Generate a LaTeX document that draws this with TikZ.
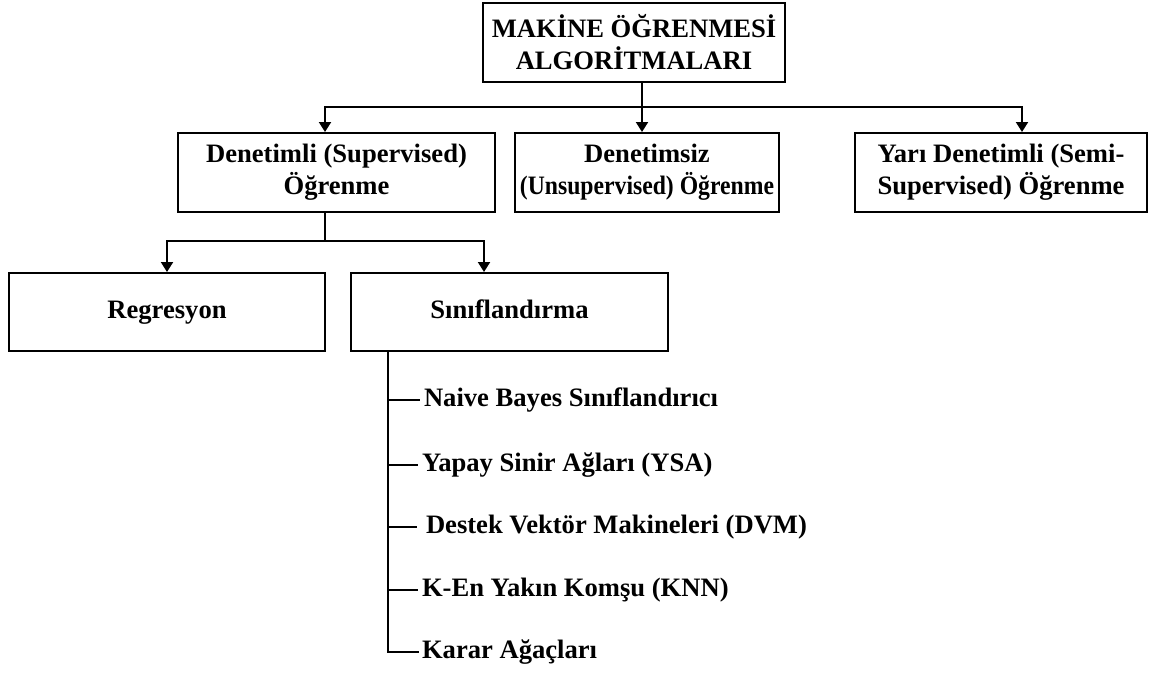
\documentclass[tikz,border=0pt]{standalone}
\usepackage{fontspec}
\setmainfont{Liberation Serif}
\usetikzlibrary{arrows.meta}

\begin{document}
\begin{tikzpicture}[x=0.5pt,y=-0.5pt,line width=1pt,
   font=\bfseries\fontsize{13.3}{16}\selectfont,
   box/.style={draw,align=center,inner sep=0pt,minimum height=39.5pt},
   item/.style={anchor=west,inner sep=1pt},
   arr/.style={-{Triangle[width=6pt,length=5pt]}}]
  \useasboundingbox (0,0) rectangle (1171,677);

  % ---- root ----
  \node[box,minimum width=151pt] (root) at (634,42.5) {MAKİNE ÖĞRENMESİ\\ALGORİTMALARI};

  % ---- learning types ----
  \node[box,minimum width=158.5pt] (sup) at (336.5,172.5) {Denetimli (Supervised)\\Öğrenme};
  \node[box,minimum width=132pt] (uns) at (647,172.5)
    {Denetimsiz\\\scalebox{0.89}[1]{(Unsupervised) Öğrenme}};
  \node[box,minimum width=146pt] (semi) at (1001,172.5) {Yarı Denetimli (Semi-\\Supervised) Öğrenme};
  \coordinate (r1) at (642,107);
  \draw (root.south -| r1) -- (r1);
  \draw[arr] (r1) -| (sup.north -| 325,0);
  \draw[arr] (r1) -- (uns.north -| r1);
  \draw[arr] (r1) -| (semi.north -| 1022,0);

  % ---- supervised ----
  \node[box,minimum width=158pt,minimum height=39pt,text height=9.5pt,text depth=3pt] (reg) at (167,312) {Regresyon};
  \node[box,minimum width=158.5pt,minimum height=39pt,text height=9.5pt,text depth=3pt] (cls) at (509.5,312) {Sınıflandırma};
  \coordinate (r2) at (325,241);
  \draw (sup.south -| r2) -- (r2);
  \draw[arr] (r2) -| (reg.north -| 167,0);
  \draw[arr] (r2) -| (cls.north -| 484,0);

  % ---- classifiers ----
  \coordinate (sb) at (388,0);
  \node[item] (nb) at (421,400) {Naive Bayes Sınıflandırıcı};
  \node[item] (ysa) at (419,465) {Yapay Sinir Ağları (YSA)};
  \node[item] (dvm) at (423,527) {Destek Vektör Makineleri (DVM)};
  \node[item] (knn) at (419,590) {K-En Yakın Komşu (KNN)};
  \node[item] (kar) at (419,652) {Karar Ağaçları};
  \draw (cls.south -| sb) -- (kar.west -| sb) -- (kar.west);
  \foreach \n/\e in {nb/420,ysa/418,dvm/417,knn/418}
    \draw (\n.west -| sb) -- (\n.west -| \e,0);
\end{tikzpicture}
\end{document}
